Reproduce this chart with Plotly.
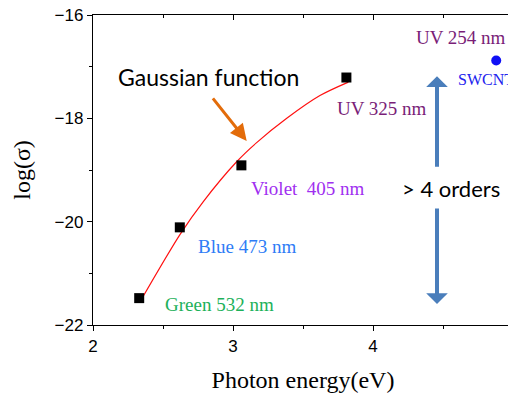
import plotly.graph_objects as go

# ---- data ----
labels = ["Green 532 nm", "Blue 473 nm", "Violet\u00a0 405 nm", "UV 325 nm"]
energy = [2.33, 2.62, 3.06, 3.81]
log_sigma = [-21.48, -20.11, -18.91, -17.21]

swcnt_energy = [4.88]
swcnt_log_sigma = [-16.88]

# Gaussian fit curve
fit_energy = [2.336, 2.621, 2.788, 3.026, 3.169, 3.384, 3.621, 3.824]
fit_log_sigma = [-21.55, -20.25, -19.61, -18.84, -18.47, -18.00, -17.56, -17.30]

x_range = [2, 5]
y_range = [-22, -16]
x_ticks = [2, 3, 4, 5]
y_ticks = [-22, -20, -18, -16]

SERIF = "Liberation Serif, Times New Roman, serif"
SANS = "Liberation Sans, Arial, sans-serif"
CAL = "Lato, Carlito, Calibri, sans-serif"

fig = go.Figure()

fig.add_trace(go.Scatter(x=fit_energy, y=fit_log_sigma, mode="lines",
                         line=dict(color="#FF1010", width=1.2, shape="spline",
                                   smoothing=0.8),
                         hoverinfo="skip", showlegend=False))
fig.add_trace(go.Scatter(x=energy, y=log_sigma, mode="markers",
                         marker=dict(symbol="square", size=10, color="black"),
                         showlegend=False))
fig.add_trace(go.Scatter(x=swcnt_energy, y=swcnt_log_sigma, mode="markers",
                         marker=dict(symbol="circle", size=10, color="#1010F5"),
                         showlegend=False, cliponaxis=False))
# invisible trace on the mirrored axes
fig.add_trace(go.Scatter(x=[None], y=[None], xaxis="x2", yaxis="y2",
                         mode="markers", showlegend=False, hoverinfo="skip"))

axis_common = dict(showgrid=False, zeroline=False, showline=True,
                   linecolor="black", linewidth=1.3, automargin=False,
                   tickcolor="black", tickwidth=1.3, ticklen=5)

# the page body adds an 8px margin, so the figure is 8px smaller than the window
fig.update_layout(
    width=508, height=388,
    margin=dict(l=85, r=3, t=7, b=71),
    plot_bgcolor="white", paper_bgcolor="white",
    xaxis=dict(range=x_range, tickvals=x_ticks, ticks="outside",
               ticklabeloverflow="allow",
               minor=dict(dtick=0.5, ticks="outside", ticklen=3,
                          tickcolor="black", tickwidth=1.3),
               tickfont=dict(family=SANS, size=17, color="black"),
               title=dict(text="Photon energy(eV)", standoff=16,
                          font=dict(family=SERIF, size=24, color="black")),
               **axis_common),
    yaxis=dict(range=y_range, tickvals=y_ticks, ticks="outside",
               ticklabeloverflow="allow",
               minor=dict(dtick=1, ticks="outside", ticklen=3,
                          tickcolor="black", tickwidth=1.3),
               tickfont=dict(family=SANS, size=17, color="black"),
               title=dict(text="log(σ)", standoff=17,
                          font=dict(family=SERIF, size=24, color="black")),
               **axis_common),
    xaxis2=dict(range=x_range, overlaying="x", side="top", tickvals=x_ticks,
                ticks="inside", showticklabels=False,
                minor=dict(dtick=0.5, ticks="inside", ticklen=3,
                           tickcolor="black", tickwidth=1.3),
                **axis_common),
    yaxis2=dict(range=y_range, overlaying="y", side="right", tickvals=y_ticks,
                ticks="inside", showticklabels=False,
                minor=dict(dtick=1, ticks="inside", ticklen=5,
                           tickcolor="black", tickwidth=1.3),
                **axis_common),
)

def label(text, x, y, color, family=SERIF, size=19):
    fig.add_annotation(text=text, x=x, y=y, xref="x", yref="y",
                       xanchor="left", yanchor="middle", showarrow=False,
                       font=dict(family=family, size=size, color=color))

def px2x(px):
    return 2 + (px - 93) / 140.0

def py2y(py):
    return -22 + (325 - py) / 51.72

label(labels[0], px2x(163), py2y(304), "#1DB15A")
label(labels[1], px2x(196), py2y(246), "#2E7CF6")
label(labels[2], px2x(249), py2y(188), "#A02FF0")
label(labels[3], px2x(335), py2y(108), "#7A1E78")
label("UV 254 nm", px2x(414), py2y(37), "#7A1E78")
label("SWCNT", px2x(456), py2y(79), "#2222EE", size=16)
label("Gaussian function", px2x(116), py2y(77), "black", family=CAL, size=23)
label("> 4 orders", px2x(400), py2y(188), "black", family=CAL, size=22)

# orange arrow pointing to the curve
fig.add_annotation(x=px2x(246.7), y=py2y(140.7), ax=px2x(211.7), ay=py2y(96.7),
                   xref="x", yref="y", axref="x", ayref="y", text="",
                   showarrow=True, arrowhead=2, arrowsize=1.1, arrowwidth=3,
                   arrowcolor="#E36C0A", standoff=0)
# blue double arrow
fig.add_annotation(x=px2x(437), y=py2y(76), ax=px2x(437), ay=py2y(168),
                   xref="x", yref="y", axref="x", ayref="y", text="",
                   showarrow=True, arrowhead=1, arrowsize=0.9, arrowwidth=4,
                   arrowcolor="#4A7EBB", standoff=0)
fig.add_annotation(x=px2x(437), y=py2y(304), ax=px2x(437), ay=py2y(207),
                   xref="x", yref="y", axref="x", ayref="y", text="",
                   showarrow=True, arrowhead=1, arrowsize=0.9, arrowwidth=4,
                   arrowcolor="#4A7EBB", standoff=0)

fig.write_html("out.html")
